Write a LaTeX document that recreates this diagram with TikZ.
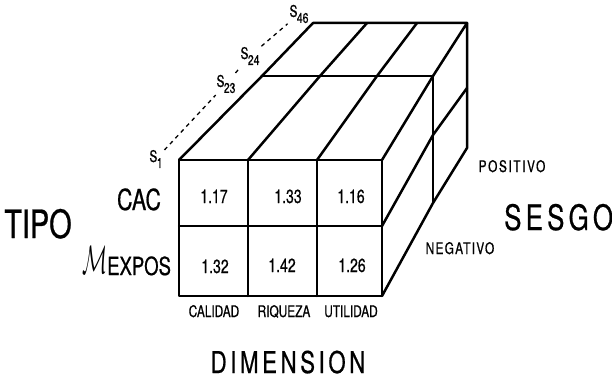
\documentclass[tikz,border=0pt]{standalone}
\usepackage{fontspec}
\setmainfont{TeX Gyre Heros}[FakeStretch=0.74,FakeBold=0.6]
\usetikzlibrary{positioning}
\definecolor{inkclr}{RGB}{0,0,0}
\definecolor{pageclr}{RGB}{255,255,255}
\tikzset{
  %% box edges
  boxln/.style={line width=2.5pt,line join=round,line cap=round,color=inkclr},
  %% dashed S scale
  sline/.style={dashed,dash pattern=on 4pt off 4pt,line width=1.3pt,color=inkclr,
    shorten <=1pt,shorten >=1pt},
  %% text
  big/.style={font=\fontsize{#1}{#1}\selectfont,inner sep=0pt,anchor=base,text=inkclr},
  val/.style={big=19},
  dim/.style={big=16},
  slbl/.style={font=\fontsize{16}{16}\selectfont,inner sep=1pt,text=inkclr},
}
\newcommand{\ssub}[2]{S\kern-0.5pt\raisebox{-6pt}{\fontsize{14}{14}\selectfont #2}}

\begin{document}
\begin{tikzpicture}[x=1pt,y=-1pt]
  \useasboundingbox[fill=pageclr] (0,0) rectangle (612,385);

  %% front face
  \draw[boxln] (179,160) rectangle (382,296);
  \draw[boxln] (179,226) -- (382,226);
  \draw[boxln] (248,160) -- (248,296);
  \draw[boxln] (317,160) -- (317,296);

  %% top face
  \draw[boxln] (179,160) -- (262,76) -- (313,23) -- (467,23);
  \draw[boxln] (248,160) -- (320,76) -- (367,23);
  \draw[boxln] (317,160) -- (377,76) -- (417,23);
  \draw[boxln] (262,76) -- (433,76);

  %% right face
  \draw[boxln] (382,160) -- (433,76) -- (467,23) -- (467,148) -- (433,203) -- (382,296);
  \draw[boxln] (433,76) -- (433,203);
  \draw[boxln] (382,226) -- (433,135) -- (467,88);

  %% cell values
  \node[val] (v11) at (214,203) {1.17};
  \node[val] (v12) at (288,203) {1.33};
  \node[val] (v13) at (351,203) {1.16};
  \node[val] (v21) at (215,273) {1.32};
  \node[val] (v22) at (282,272) {1.42};
  \node[val] (v23) at (352,272) {1.26};

  %% tipo
  \node[big=39] (tipo) at (38,238) {TIPO};
  \node[big=29] (cac) at (139,210) {CAC};
  \node[big=25,anchor=base west] (mexp) at (82,275)
    {\raisebox{2pt}{\resizebox{25pt}{27pt}{$\mathcal{M}$}}EXPOS};

  %% dimension
  \node[dim] (cal) at (214,317) {CALIDAD};
  \node[dim] (riq) at (284,317) {RIQUEZA};
  \node[dim] (uti) at (351,317) {UTILIDAD};
  \node[big=30] (dimn) at (288,373) {\addfontfeature{LetterSpace=12}DIMENSION};

  %% sesgo
  \node[big=35,anchor=base west] (sesgo) at (504,230) {\addfontfeature{LetterSpace=12}SESGO};
  \node[dim] (pos) at (512,172) {\addfontfeature{LetterSpace=10}POSITIVO};
  \node[dim] (neg) at (460,254) {\addfontfeature{LetterSpace=8}NEGATIVO};

  %% S scale
  \node[slbl] (s1)  at (156,159) {\ssub{S}{1}};
  \node[slbl] (s23) at (226,84)  {\ssub{S}{23}};
  \node[slbl] (s24) at (250,56)  {\ssub{S}{24}};
  \node[slbl] (s46) at (299,14)  {\ssub{S}{46}};
  \draw[sline] (s1) -- (s23);
  \draw[sline] (s23) -- (s24);
  \draw[sline] (s24) -- (s46);

\end{tikzpicture}
\end{document}
